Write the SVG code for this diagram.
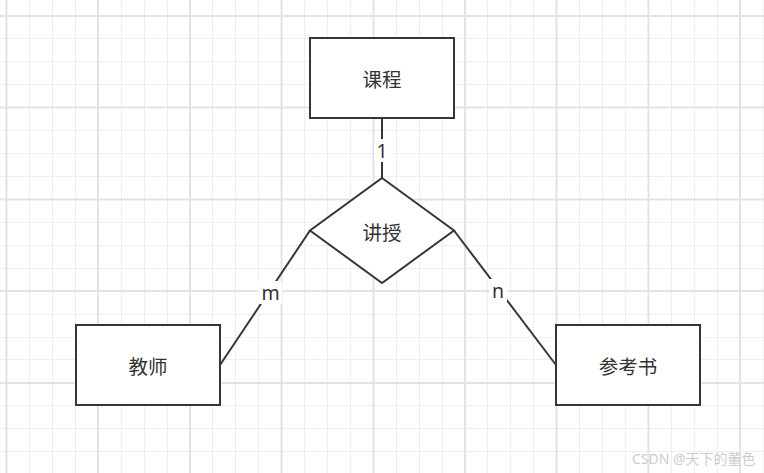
<svg xmlns="http://www.w3.org/2000/svg" width="764" height="473" viewBox="0 0 764 473">
<style>
.minor{stroke:#eeeeee;stroke-width:1;fill:none}
.major{stroke:#e3e3e3;stroke-width:2;fill:none}
.shape{fill:#ffffff;stroke:#33373b;stroke-width:2}
.edge{stroke:#33373b;stroke-width:2;fill:none}
.t{font-family:"Noto Sans CJK SC","Microsoft YaHei",sans-serif;font-size:19.5px;fill:#333333;text-anchor:middle;dominant-baseline:central}
.lbl{font-family:"Noto Sans","Liberation Sans",sans-serif;font-size:19.5px;fill:#333333;text-anchor:middle;dominant-baseline:central}
.wm{font-family:"Noto Sans","Noto Sans CJK SC",sans-serif;font-size:14px;fill:#cccccc}
</style>
<rect width="764" height="473" fill="#ffffff"/>
<g id="grid">
<path class="minor" d="M29.5 0V473M52.5 0V473M75.5 0V473M121.5 0V473M144.5 0V473M167.5 0V473M212.5 0V473M235.5 0V473M258.5 0V473M304.5 0V473M327.5 0V473M350.5 0V473M396.5 0V473M419.5 0V473M442.5 0V473M487.5 0V473M510.5 0V473M533.5 0V473M579.5 0V473M602.5 0V473M625.5 0V473M671.5 0V473M694.5 0V473M717.5 0V473M763 0V473M0 38.5H764M0 61.5H764M0 84.5H764M0 130.5H764M0 153.5H764M0 176.5H764M0 222.5H764M0 245.5H764M0 268.5H764M0 314.5H764M0 337.5H764M0 359.5H764M0 405.5H764M0 428.5H764M0 451.5H764"/>
<path class="major" d="M6.5 0V473M98 0V473M190 0V473M281.5 0V473M373.5 0V473M465 0V473M556.5 0V473M648.5 0V473M740 0V473M0 16H764M0 107.5H764M0 199.5H764M0 291H764M0 383H764"/>
</g>
<g id="connectors">
<line class="edge" x1="382" y1="118" x2="382" y2="178"/>
<line class="edge" x1="310" y1="230.5" x2="220" y2="365"/>
<line class="edge" x1="454" y1="230.5" x2="556" y2="365"/>
<rect x="374" y="139" width="16" height="23" fill="#ffffff"/>
<text class="lbl" x="382" y="150">1</text>
<rect x="258" y="281" width="24" height="23" fill="#ffffff"/>
<text class="lbl" x="270.5" y="292">m</text>
<rect x="489" y="279" width="18" height="23" fill="#ffffff"/>
<text class="lbl" x="498" y="290">n</text>
</g>
<g id="course">
<rect class="shape" x="310" y="38" width="144" height="80"/>
<text class="t" x="382" y="78">课程</text>
</g>
<g id="teach">
<polygon class="shape" points="382,178 454,230.5 382,283 310,230.5"/>
<text class="t" x="382" y="231">讲授</text>
</g>
<g id="teacher">
<rect class="shape" x="76" y="325" width="144" height="80"/>
<text class="t" x="148" y="365">教师</text>
</g>
<g id="book">
<rect class="shape" x="556" y="325" width="144" height="80"/>
<text class="t" x="628" y="365">参考书</text>
</g>
<text class="wm" x="632" y="464">CSDN @天下的董色</text>
</svg>
